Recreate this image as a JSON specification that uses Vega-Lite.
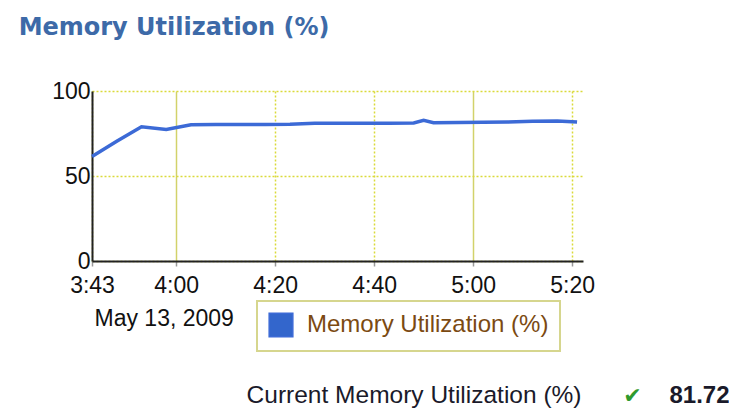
{
  "$schema": "https://vega.github.io/schema/vega-lite/v6.json",
  "background": "white",
  "padding": {"left": 18, "top": 16, "right": 0, "bottom": 0},
  "title": {
    "text": "Memory Utilization (%)",
    "anchor": "start",
    "font": "DejaVu Sans",
    "fontSize": 24,
    "fontWeight": "bold",
    "color": "#3d6aa8",
    "dx": -33,
    "offset": 40
  },
  "config": {
    "view": {"stroke": null},
    "font": "Liberation Sans"
  },
  "spacing": 51,
  "vconcat": [
    {
      "width": 491,
      "height": 170,
      "data": {
        "values": [
          {"t": "2009-05-13T03:43:00", "v": 61.5},
          {"t": "2009-05-13T03:48:00", "v": 70.4},
          {"t": "2009-05-13T03:53:00", "v": 79.0},
          {"t": "2009-05-13T03:58:00", "v": 77.4},
          {"t": "2009-05-13T04:03:00", "v": 80.2},
          {"t": "2009-05-13T04:08:00", "v": 80.3},
          {"t": "2009-05-13T04:13:00", "v": 80.3},
          {"t": "2009-05-13T04:18:00", "v": 80.3},
          {"t": "2009-05-13T04:23:00", "v": 80.4},
          {"t": "2009-05-13T04:28:00", "v": 81.0},
          {"t": "2009-05-13T04:33:00", "v": 81.0},
          {"t": "2009-05-13T04:38:00", "v": 81.0},
          {"t": "2009-05-13T04:43:00", "v": 81.1},
          {"t": "2009-05-13T04:48:00", "v": 81.2},
          {"t": "2009-05-13T04:50:00", "v": 82.8},
          {"t": "2009-05-13T04:52:00", "v": 81.3},
          {"t": "2009-05-13T04:57:00", "v": 81.5},
          {"t": "2009-05-13T05:02:00", "v": 81.6},
          {"t": "2009-05-13T05:07:00", "v": 81.8},
          {"t": "2009-05-13T05:12:00", "v": 82.2},
          {"t": "2009-05-13T05:17:00", "v": 82.4},
          {"t": "2009-05-13T05:21:00", "v": 81.7}
        ]
      },
      "mark": {"type": "line", "strokeWidth": 3.5, "interpolate": "linear"},
      "encoding": {
        "x": {
          "field": "t",
          "type": "temporal",
          "scale": {
            "domain": [
              {"year": 2009, "month": 5, "date": 13, "hours": 3, "minutes": 43},
              {"year": 2009, "month": 5, "date": 13, "hours": 5, "minutes": 22, "seconds": 12}
            ]
          },
          "axis": {
            "values": [
              {"year": 2009, "month": 5, "date": 13, "hours": 3, "minutes": 43},
              {"year": 2009, "month": 5, "date": 13, "hours": 4, "minutes": 0},
              {"year": 2009, "month": 5, "date": 13, "hours": 4, "minutes": 20},
              {"year": 2009, "month": 5, "date": 13, "hours": 4, "minutes": 40},
              {"year": 2009, "month": 5, "date": 13, "hours": 5, "minutes": 0},
              {"year": 2009, "month": 5, "date": 13, "hours": 5, "minutes": 20}
            ],
            "format": "%-H:%M",
            "labelFont": "Liberation Sans",
            "labelFontSize": 23,
            "labelColor": "#111111",
            "labelPadding": 8,
            "labelFlush": false,
            "labelOverlap": false,
            "tickSize": 5,
            "tickColor": "#999999",
            "tickWidth": 1.5,
            "domainColor": "#222222",
            "domainWidth": 2,
            "grid": true,
            "gridWidth": 1.5,
            "gridColor": {"condition": {"test": "minutes(datum.value) == 0", "value": "#d2d26a"}, "value": "#dada3a"},
            "gridDash": {"condition": {"test": "minutes(datum.value) == 0", "value": []}, "value": [2, 2]},
            "title": "May 13, 2009",
            "titleFont": "Liberation Sans",
            "titleFontSize": 23,
            "titleFontWeight": "normal",
            "titleColor": "#111111",
            "titleAnchor": "start",
            "titleAlign": "left",
            "titleBaseline": "alphabetic",
            "titleX": 2,
            "titleY": 64
          }
        },
        "y": {
          "field": "v",
          "type": "quantitative",
          "scale": {"domain": [0, 100], "nice": false},
          "axis": {
            "values": [0, 50, 100],
            "title": null,
            "labelFont": "Liberation Sans",
            "labelFontSize": 23,
            "labelColor": "#111111",
            "labelPadding": 2,
            "ticks": false,
            "domainColor": "#222222",
            "domainWidth": 2,
            "grid": true,
            "gridColor": "#dada3a",
            "gridDash": [2, 2],
            "gridWidth": 1.5
          }
        },
        "color": {
          "datum": "Memory Utilization (%)",
          "type": "nominal",
          "scale": {"range": ["#3c6ad6"]},
          "legend": {
            "orient": "none",
            "legendX": 165,
            "legendY": 210,
            "title": null,
            "direction": "horizontal",
            "padding": 11,
            "symbolType": "square",
            "symbolSize": 560,
            "symbolStrokeWidth": 1.5,
            "labelFont": "Liberation Sans",
            "labelFontSize": 24,
            "labelColor": "#7b4a12",
            "labelOffset": 13,
            "labelLimit": 400,
            "encode": {
              "legend": {"update": {"stroke": {"value": "#d6d68e"}, "strokeWidth": {"value": 2}}},
              "symbols": {"update": {"fill": {"value": "#3366cc"}, "stroke": {"value": "#111111"}, "strokeWidth": {"value": 1.5}, "opacity": {"value": 1}}}
            }
          }
        }
      }
    },
    {
      "width": 491,
      "height": 30,
      "data": {"values": [{"label": "Current Memory Utilization (%)", "check": "✔", "value": 81.72}]},
      "layer": [
        {
          "mark": {"type": "text", "align": "right", "baseline": "middle", "dx": 244, "font": "Liberation Sans", "fontSize": 24.5, "color": "#1a1a2a"},
          "encoding": {"text": {"field": "label"}}
        },
        {
          "mark": {"type": "text", "align": "center", "baseline": "middle", "dx": 295, "font": "DejaVu Sans", "fontSize": 22, "color": "#2e9a2e"},
          "encoding": {"text": {"field": "check"}}
        },
        {
          "mark": {"type": "text", "align": "left", "baseline": "middle", "dx": 332, "font": "Liberation Sans", "fontSize": 24, "fontWeight": "bold", "color": "#1a1a2a"},
          "encoding": {"text": {"field": "value", "format": ".2f"}}
        }
      ]
    }
  ]
}
